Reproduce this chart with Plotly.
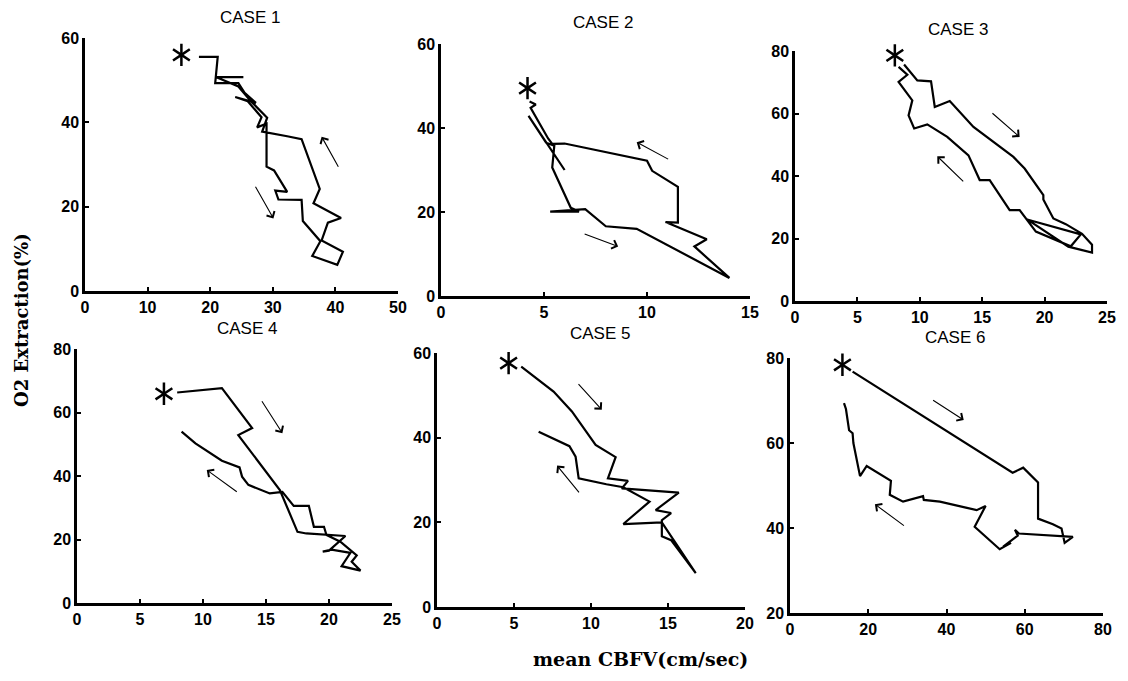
import plotly.graph_objects as go

# page is 1128x681; the html body has an 8px margin, so the figure is drawn 8px in
PAGE_OFF = 8
W, H = 1128 - 2 * PAGE_OFF, 681 - 2 * PAGE_OFF

# ---------------- data ----------------
case_titles = ["CASE 1", "CASE 2", "CASE 3", "CASE 4", "CASE 5", "CASE 6"]

case1_x = [18.2, 21.2, 20.8, 24.5, 25.5, 27.3, 24.0, 26.0, 28.2, 27.5, 29.0, 29.0, 30.2, 32.3, 30.4, 30.9,
           34.6, 34.8, 37.6, 36.3, 40.3, 41.2, 37.8, 38.8, 40.9, 36.5, 37.5, 36.3, 34.6, 32.3, 28.3, 29.1,
           26.5, 24.5, 21.0, 25.3]
case1_y = [55.5, 55.5, 49.3, 49.3, 47.0, 44.6, 46.0, 45.0, 41.2, 38.8, 39.7, 29.5, 28.6, 23.5, 23.8, 21.7,
           21.6, 16.6, 11.8, 8.3, 6.2, 9.3, 12.0, 16.2, 17.3, 20.8, 24.2, 29.0, 36.0, 36.7, 37.8, 41.1,
           45.0, 48.5, 50.7, 50.7]

case2_x = [4.3, 4.6, 4.35, 5.2, 5.4, 6.0, 10.0, 10.25, 11.5, 11.5, 10.9, 12.9, 12.3, 14.0, 9.5, 8.0,
           7.0, 6.5, 5.3, 6.7, 6.3, 5.4, 5.5, 5.1, 4.25, 6.0]
case2_y = [46.3, 45.6, 44.8, 37.5, 36.2, 36.3, 32.2, 29.8, 26.0, 17.5, 17.6, 13.5, 11.8, 4.3, 16.0, 16.6,
           20.7, 20.5, 20.1, 20.1, 21.0, 30.6, 35.8, 36.5, 42.9, 30.0]

case3_x = [8.74, 9.8, 10.9, 11.2, 12.4, 14.3, 17.5, 18.4, 19.9, 19.9, 20.7, 21.7, 23.0, 23.8, 23.8, 21.9,
           18.6, 22.9, 22.1, 19.3, 18.0, 17.2, 15.6, 14.8, 13.9, 12.2, 10.6, 9.55, 9.1, 9.4, 8.3, 9.0, 8.3]
case3_y = [75.7, 70.6, 70.3, 62.1, 64.0, 55.7, 46.1, 42.4, 33.9, 32.5, 26.4, 24.6, 21.5, 18.0, 15.5, 17.4,
           26.1, 21.3, 17.5, 22.2, 29.1, 29.1, 38.7, 38.7, 46.6, 52.5, 56.5, 55.2, 59.4, 64.2, 70.1, 72.4, 74.9]

case4_x = [7.95, 11.5, 13.9, 12.8, 16.1, 17.5, 18.2, 21.3, 20.0, 19.5, 20.2, 21.7, 21.0, 22.5, 21.8, 22.2,
           20.9, 19.8, 19.6, 18.8, 18.4, 17.2, 16.3, 15.3, 13.6, 13.1, 12.9, 11.5, 9.4, 8.3]
case4_y = [66.3, 67.7, 55.1, 52.9, 35.6, 22.4, 21.9, 21.1, 16.5, 16.2, 16.8, 15.8, 11.6, 10.2, 13.0, 15.0,
           19.3, 21.4, 24.0, 24.0, 30.6, 30.6, 35.0, 34.5, 37.2, 39.8, 42.7, 44.8, 50.3, 54.0]

case5_x = [5.47, 7.57, 8.76, 10.3, 11.6, 11.1, 12.4, 12.0, 15.7, 14.2, 15.2, 14.6, 14.6, 15.2, 16.8, 14.6,
           12.1, 13.8, 12.1, 11.0, 9.2, 9.0, 8.6, 6.6]
case5_y = [56.8, 50.9, 46.2, 38.3, 35.4, 30.4, 29.8, 28.0, 27.0, 22.9, 22.2, 20.5, 16.7, 15.8, 8.0, 20.0,
           19.6, 24.9, 28.3, 29.0, 30.4, 35.5, 38.0, 41.4]

case6_x = [16.0, 56.9, 59.6, 63.4, 63.4, 67.2, 69.4, 70.2, 72.3, 58.5, 57.5, 58.2, 54.5, 56.5, 53.6, 47.2,
           50.0, 47.7, 38.3, 34.2, 34.0, 28.9, 25.5, 25.8, 19.6, 17.9, 16.2, 16.0, 15.1, 14.3, 13.8]
case6_y = [76.8, 53.0, 54.2, 50.7, 42.2, 40.9, 39.9, 36.5, 37.9, 38.7, 39.6, 38.2, 35.6, 36.5, 35.0, 40.3,
           45.2, 44.2, 46.2, 46.6, 47.5, 46.2, 47.8, 51.1, 54.6, 52.2, 60.0, 62.3, 63.0, 68.0, 69.4]

# start markers (*)
star_x = [15.4, 4.2, 8.0, 6.9, 4.65, 13.4]
star_y = [56.0, 49.5, 78.6, 65.9, 57.6, 78.4]

# direction arrows per case: (tail_x, tail_y, head_x, head_y)
arrows_case1 = [(40.6, 29.1, 37.8, 36.6), (27.1, 25.1, 30.1, 17.2)]
arrows_case2 = [(11.1, 32.4, 9.5, 36.6), (6.9, 14.9, 8.6, 11.8)]
arrows_case3 = [(15.7, 60.5, 18.0, 52.5), (13.6, 37.8, 11.4, 46.3)]
arrows_case4 = [(14.6, 64.0, 16.3, 53.5), (12.8, 34.7, 10.3, 41.9)]
arrows_case5 = [(9.1, 53.0, 10.7, 46.6), (9.3, 26.7, 7.8, 33.4)]
arrows_case6 = [(36.2, 70.3, 44.4, 65.4), (29.5, 40.3, 21.7, 45.6)]

x_ranges = [[0, 50], [0, 15], [0, 25], [0, 25], [0, 20], [0, 80]]
y_ranges = [[0, 60], [0, 60], [0, 80], [0, 80], [0, 60], [20, 80]]
x_dticks = [10, 5, 5, 5, 5, 20]
y_dticks = [20, 20, 20, 20, 20, 20]

x_title = "mean CBFV(cm/sec)"
y_title = "O2 Extraction(%)"

# ---------------- layout geometry (page pixels) ----------------
# left, right, bottom, top of each plotting area
boxes = [(85, 398, 291, 38), (441, 750, 296, 44), (795, 1107, 301, 51),
         (77, 392, 603, 349), (437, 745, 607, 353), (790, 1103, 613, 358)]
title_pos = [(250, 17), (603, 23), (958, 30), (247, 328), (600, 333), (955, 337)]


def px(p):
    return (p - PAGE_OFF) / W


def py(p):
    return 1 - (p - PAGE_OFF) / H


xs = [case1_x, case2_x, case3_x, case4_x, case5_x, case6_x]
ys = [case1_y, case2_y, case3_y, case4_y, case5_y, case6_y]
arrows = [arrows_case1, arrows_case2, arrows_case3, arrows_case4, arrows_case5, arrows_case6]

fig = go.Figure()
layout = dict(
    template="none",
    width=W, height=H, autosize=False,
    margin=dict(l=0, r=0, t=0, b=0, pad=0, autoexpand=False),
    paper_bgcolor="white", plot_bgcolor="white",
    showlegend=False,
)
annotations = []

tick_font = dict(family="Liberation Sans, Arial, sans-serif", size=16, color="black", weight=700)

for i in range(6):
    n = "" if i == 0 else str(i + 1)
    xa, ya = "x" + n, "y" + n
    l, r, b, t = boxes[i]
    layout["xaxis" + n] = dict(
        domain=[px(l), px(r)], range=x_ranges[i], anchor=ya, automargin=False,
        showgrid=False, zeroline=False, showline=True, linecolor="black", linewidth=2.5,
        ticks="inside", ticklen=4, tickwidth=2, tickcolor="black",
        tick0=0, dtick=x_dticks[i], tickfont=tick_font, fixedrange=True,
    )
    layout["yaxis" + n] = dict(
        domain=[py(b), py(t)], range=y_ranges[i], anchor=xa, automargin=False,
        showgrid=False, zeroline=False, showline=True, linecolor="black", linewidth=2.5,
        ticks="inside", ticklen=4, tickwidth=2, tickcolor="black",
        tick0=0, dtick=y_dticks[i], tickfont=tick_font, fixedrange=True,
    )
    fig.add_trace(go.Scatter(
        x=xs[i], y=ys[i], mode="lines", xaxis=xa, yaxis=ya,
        line=dict(color="black", width=2.2), hoverinfo="skip", cliponaxis=False,
    ))
    for sym in ["y-up-open", "y-down-open"]:
        fig.add_trace(go.Scatter(
            x=[star_x[i]], y=[star_y[i]], mode="markers", xaxis=xa, yaxis=ya,
            marker=dict(symbol=sym, size=14, line=dict(color="black", width=2.5), color="black"),
            hoverinfo="skip", cliponaxis=False,
        ))
    for (tx, ty, hx, hy) in arrows[i]:
        annotations.append(dict(
            x=hx, y=hy, ax=tx, ay=ty, xref=xa, yref=ya, axref=xa, ayref=ya,
            text="", showarrow=True, arrowhead=4, arrowsize=1.6, arrowwidth=1.1,
            arrowcolor="black", standoff=0, startstandoff=0,
        ))
    cx, cy = title_pos[i]
    annotations.append(dict(
        x=px(cx), y=py(cy), xref="paper", yref="paper", text=case_titles[i],
        showarrow=False, xanchor="center", yanchor="middle",
        font=dict(family="Liberation Sans, Arial, sans-serif", size=17, color="black"),
    ))

annotations.append(dict(
    x=px(640), y=py(659), xref="paper", yref="paper", text=x_title,
    showarrow=False, xanchor="center", yanchor="middle", borderpad=0,
    font=dict(family="DejaVu Serif, serif", size=19, color="black", weight=700),
))
annotations.append(dict(
    x=px(21), y=py(320), xref="paper", yref="paper", text=y_title,
    showarrow=False, xanchor="center", yanchor="middle", textangle=-90,
    font=dict(family="DejaVu Serif, serif", size=18, color="black", weight=700),
))

layout["annotations"] = annotations
fig.update_layout(**layout)
fig.write_html("out.html")
